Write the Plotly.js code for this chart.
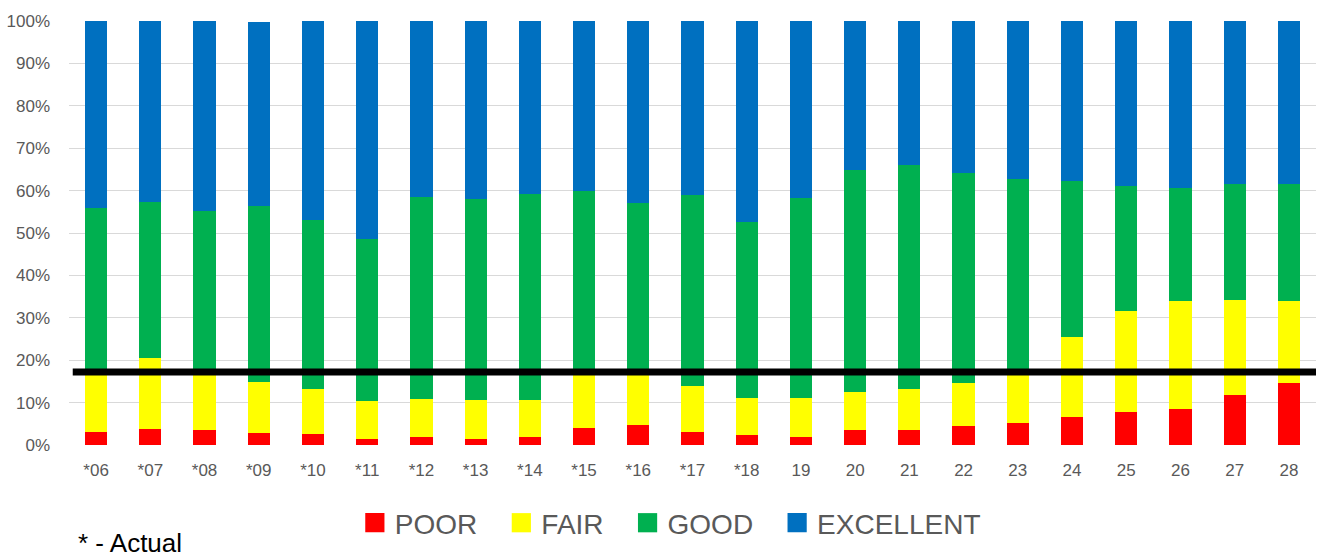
<!DOCTYPE html>
<html>
<head>
<meta charset="utf-8">
<script src="https://cdn.plot.ly/plotly-3.0.1.min.js"></script>
<style>html,body{margin:0;padding:0;background:#fff;}#chart{width:1319px;height:559px;}</style>
</head>
<body>
<div id="chart"></div>
<script>
const categories = ['*06','*07','*08','*09','*10','*11','*12','*13','*14','*15','*16','*17','*18','19','20','21','22','23','24','25','26','27','28'];
const poor      = [3.1, 3.8, 3.5, 2.8, 2.5, 1.5, 1.8, 1.5, 1.8, 4.1, 4.8, 3.1, 2.4, 2.0, 3.6, 3.6, 4.4, 5.3, 6.7, 7.8, 8.6, 11.9, 14.6];
const fair      = [13.9, 16.8, 13.5, 12.1, 10.6, 8.8, 9.0, 9.1, 8.8, 12.7, 12.2, 10.8, 8.7, 9.1, 9.0, 9.7, 10.2, 11.7, 18.7, 23.9, 25.4, 22.3, 19.4];
const good      = [39.0, 36.8, 38.3, 41.4, 40.0, 38.2, 47.8, 47.4, 48.7, 43.0, 40.1, 45.1, 41.5, 47.2, 52.3, 52.8, 49.5, 45.8, 36.9, 29.4, 26.6, 27.4, 27.6];
const excellent = [44.0, 42.6, 44.7, 43.5, 46.9, 51.5, 41.4, 42.0, 40.7, 40.2, 42.9, 41.0, 47.4, 41.7, 35.1, 33.9, 35.9, 37.2, 37.7, 38.9, 39.4, 38.4, 38.4];
const threshold = 17.2;
const seriesNames = ['POOR','FAIR','GOOD','EXCELLENT'];
const seriesColors = ['#FF0000','#FFFF00','#00B050','#0070C0'];
const yTickVals = [0,10,20,30,40,50,60,70,80,90,100];
const yTickText = ['0%','10%','20%','30%','40%','50%','60%','70%','80%','90%','100%'];
const note = '* - Actual';

const seriesData = [poor, fair, good, excellent];
const traces = seriesData.map((vals, i) => ({
  type: 'bar',
  name: seriesNames[i],
  x: categories,
  y: vals,
  marker: {color: seriesColors[i], line: {width: 0}},
  hoverinfo: 'x+y+name'
}));

const extraGap = 19;

const layout = {
  width: 1319,
  height: 559,
  margin: {l: 69, r: 3, t: 21, b: 114},
  barmode: 'stack',
  bargap: 0.59,
  paper_bgcolor: '#ffffff',
  plot_bgcolor: '#ffffff',
  font: {family: 'Liberation Sans, Arial, sans-serif', color: '#595959'},
  xaxis: {
    type: 'category',
    tickfont: {size: 17, color: '#595959'},
    showgrid: false,
    showline: false,
    zeroline: false,
    ticks: '',
    ticklabelstandoff: 13
  },
  yaxis: {
    range: [0, 100],
    tickmode: 'array',
    tickvals: yTickVals,
    ticktext: yTickText,
    tickfont: {size: 17, color: '#595959'},
    showgrid: true,
    gridcolor: '#D9D9D9',
    gridwidth: 1,
    zeroline: false,
    showline: false,
    ticks: '',
    ticklabelstandoff: 18
  },
  showlegend: true,
  legend: {
    orientation: 'h',
    x: 0.214,
    xanchor: 'left',
    y: -0.184,
    yanchor: 'middle',
    itemwidth: 30 + extraGap,
    font: {size: 28, color: '#595959'},
    traceorder: 'normal',
    itemclick: false
  },
  shapes: [{
    type: 'line',
    xref: 'paper',
    yref: 'y',
    x0: 0.003,
    x1: 1,
    y0: threshold,
    y1: threshold,
    line: {color: '#000000', width: 7}
  }],
  annotations: [{
    text: note,
    xref: 'paper',
    yref: 'paper',
    x: 0.006,
    xanchor: 'left',
    y: -0.2305,
    yanchor: 'middle',
    showarrow: false,
    font: {size: 26, color: '#000000', family: 'Liberation Sans, Arial, sans-serif'}
  }]
};

Plotly.newPlot('chart', traces, layout, {displayModeBar: false, staticPlot: true}).then(function (gd) {
  gd.querySelectorAll('.legend .legendpoints path').forEach(function (p) {
    const t = p.getAttribute('transform') || '';
    p.setAttribute('transform', (t + ' translate(' + (extraGap / 2) + ',0) scale(1.6)').trim());
  });
});
</script>
</body>
</html>
